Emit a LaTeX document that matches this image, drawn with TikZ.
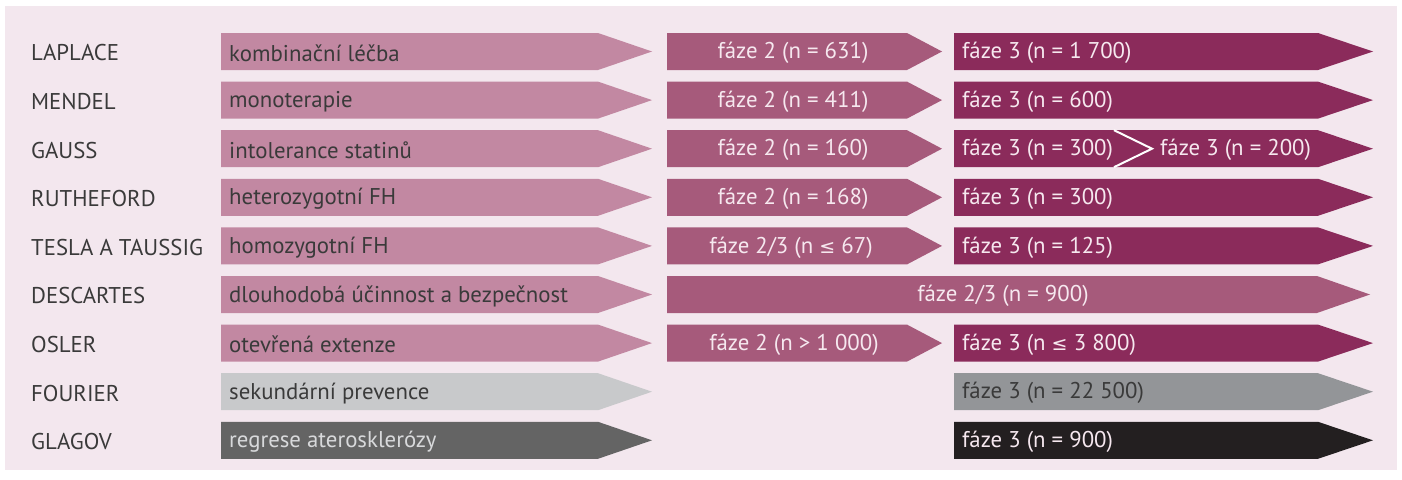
\documentclass[tikz,border=0pt]{standalone}
\usepackage{fontspec}
\setmainfont{PT Sans}
\newfontfamily\symf{DejaVu Sans}
\newcommand{\myleq}{{\symf\fontsize{19}{20}\selectfont ≤}}
\definecolor{panel}{HTML}{F3E7EE}
\definecolor{cA}{HTML}{C288A2}
\definecolor{cB}{HTML}{A65A7B}
\definecolor{cC}{HTML}{8B2B5B}
\definecolor{gL}{HTML}{C8C9CB}
\definecolor{gM}{HTML}{939598}
\definecolor{gD}{HTML}{646464}
\definecolor{gK}{HTML}{231F20}
\definecolor{lab}{HTML}{3A3A3A}
\definecolor{wt}{HTML}{F6E8EF}
\newcommand{\myarrow}[5]{%
  \fill[#5] (#1,#4-18.5) -- (#2,#4-18.5) -- (#3,#4) -- (#2,#4+18.5) -- (#1,#4+18.5) -- cycle;}
\begin{document}
\begin{tikzpicture}[x=1pt,y=-1pt,
  every node/.style={font=\fontsize{22.8}{24}\selectfont, inner sep=0pt, yshift=-1.5pt},
  studytxt/.style={anchor=west, text=lab},
  ltxt/.style={anchor=west, text=lab},
  ctxt/.style={anchor=center, text=wt},
  rtxt/.style={anchor=west, text=wt}]
\useasboundingbox (0,0) rectangle (1402,479);
\fill[white] (0,0) rectangle (1402,479);
\fill[panel] (5,6) rectangle (1397,470);
% rows
\def\yA{51.5}\def\yB{100.1}\def\yC{148.7}\def\yD{197.3}\def\yE{245.9}
\def\yF{294.5}\def\yG{343.1}\def\yH{391.7}\def\yI{440.3}
% column 1
\myarrow{221}{598}{652}{\yA}{cA}
\myarrow{221}{598}{652}{\yB}{cA}
\myarrow{221}{598}{652}{\yC}{cA}
\myarrow{221}{598}{652}{\yD}{cA}
\myarrow{221}{598}{652}{\yE}{cA}
\myarrow{221}{598}{652}{\yF}{cA}
\myarrow{221}{598}{652}{\yG}{cA}
\myarrow{221}{598}{652}{\yH}{gL}
\myarrow{221}{598}{652}{\yI}{gD}
% column 2
\myarrow{667}{907}{942}{\yA}{cB}
\myarrow{667}{907}{942}{\yB}{cB}
\myarrow{667}{907}{942}{\yC}{cB}
\myarrow{667}{907}{942}{\yD}{cB}
\myarrow{667}{907}{942}{\yE}{cB}
\myarrow{667}{1317}{1370}{\yF}{cB}
\myarrow{667}{907}{942}{\yG}{cB}
% column 3
\myarrow{954}{1318}{1373}{\yA}{cC}
\myarrow{954}{1318}{1373}{\yB}{cC}
\myarrow{954}{1318}{1373}{\yC}{cC}
\myarrow{954}{1318}{1373}{\yD}{cC}
\myarrow{954}{1318}{1373}{\yE}{cC}
\myarrow{954}{1318}{1373}{\yG}{cC}
\myarrow{954}{1318}{1373}{\yH}{gM}
\myarrow{954}{1318}{1373}{\yI}{gK}
% chevron in GAUSS row
\draw[white, line width=2pt] (1114,\yC-18.5) -- (1152,\yC) -- (1114,\yC+18.5);
% study names
\node[studytxt] (n1) at (31,\yA) {LAPLACE};
\node[studytxt] (n2) at (31,\yB) {MENDEL};
\node[studytxt] (n3) at (31,\yC) {GAUSS};
\node[studytxt] (n4) at (31,\yD) {RUTHEFORD};
\node[studytxt] (n5) at (31,\yE) {TESLA A TAUSSIG};
\node[studytxt] (n6) at (31,\yF) {DESCARTES};
\node[studytxt] (n7) at (31,\yG) {OSLER};
\node[studytxt] (n8) at (31,\yH) {FOURIER};
\node[studytxt] (n9) at (31,\yI) {GLAGOV};
% column 1 texts
\node[ltxt] (a1) at (229,\yA) {kombinační léčba};
\node[ltxt] (a2) at (229,\yB) {monoterapie};
\node[ltxt] (a3) at (229,\yC) {intolerance statinů};
\node[ltxt] (a4) at (229,\yD) {heterozygotní FH};
\node[ltxt] (a5) at (229,\yE) {homozygotní FH};
\node[ltxt] (a6) at (229,\yF) {dlouhodobá účinnost a bezpečnost};
\node[ltxt] (a7) at (229,\yG) {otevřená extenze};
\node[ltxt] (a8) at (229,\yH) {sekundární prevence};
\node[ltxt, text=gL!70!white] (a9) at (229,\yI) {regrese aterosklerózy};
% column 2 texts
\node[ctxt] (b1) at (793,\yA) {fáze 2 (n = 631)};
\node[ctxt] (b2) at (793,\yB) {fáze 2 (n = 411)};
\node[ctxt] (b3) at (793,\yC) {fáze 2 (n = 160)};
\node[ctxt] (b4) at (793,\yD) {fáze 2 (n = 168)};
\node[ctxt] (b5) at (791,\yE) {fáze 2/3 (n \myleq{} 67)};
\node[ctxt] (b6) at (1003,\yF) {fáze 2/3 (n = 900)};
\node[ctxt] (b7) at (794,\yG) {fáze 2 (n > 1 000)};
% column 3 texts
\node[rtxt] (c1) at (962,\yA) {fáze 3 (n = 1 700)};
\node[rtxt] (c2) at (962,\yB) {fáze 3 (n = 600)};
\node[rtxt] (c3) at (962,\yC) {fáze 3 (n = 300)};
\node[rtxt] (c3b) at (1160,\yC) {fáze 3 (n = 200)};
\node[rtxt] (c4) at (962,\yD) {fáze 3 (n = 300)};
\node[rtxt] (c5) at (962,\yE) {fáze 3 (n = 125)};
\node[rtxt] (c7) at (962,\yG) {fáze 3 (n \myleq{} 3 800)};
\node[rtxt, text=lab] (c8) at (962,\yH) {fáze 3 (n = 22 500)};
\node[rtxt] (c9) at (962,\yI) {fáze 3 (n = 900)};
\end{tikzpicture}
\end{document}
